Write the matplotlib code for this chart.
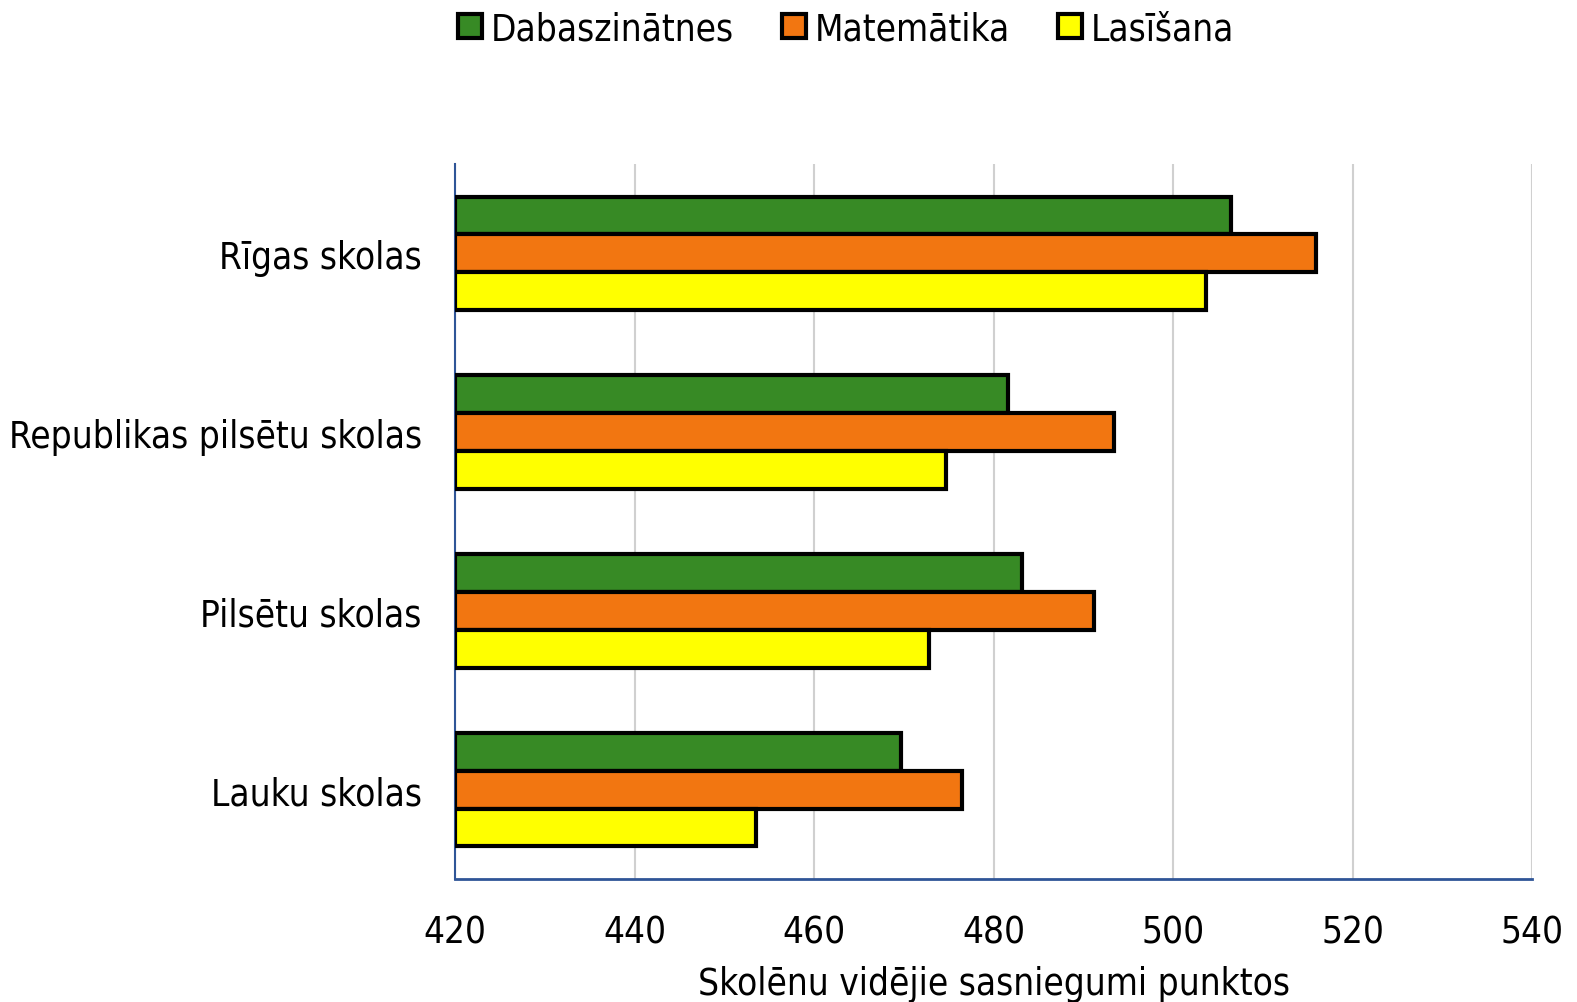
import matplotlib
matplotlib.use("Agg")
import matplotlib.pyplot as plt
from matplotlib.font_manager import fontManager
import numpy as np

categories = ["Rīgas skolas", "Republikas pilsētu skolas", "Pilsētu skolas", "Lauku skolas"]
series_names = ["Dabaszinātnes", "Matemātika", "Lasīšana"]
dabaszinatnes = [506.5, 481.6, 483.2, 469.7]
matematika = [515.9, 493.4, 491.2, 476.5]
lasisana = [503.7, 474.7, 472.8, 453.5]
xticks = [420, 440, 460, 480, 500, 520, 540]
colors = ["#378a25", "#f27611", "#ffff00"]

condensed = [f for f in fontManager.ttflist if f.name == "DejaVu Sans" and f.stretch == "condensed"]
plt.rcParams['font.family'] = ["DejaVu Sans"]
if condensed:
    plt.rcParams['font.stretch'] = 'condensed'
    fs = 26.5
else:
    fs = 23

fig = plt.figure(figsize=(15.77, 10.03), dpi=100)
ax = fig.add_axes([455/1577, 1 - 880/1003, (1532-455)/1577, (880-165)/1003])

y = np.arange(len(categories))
h = 0.212
for i, (vals, name, c) in enumerate(zip([dabaszinatnes, matematika, lasisana], series_names, colors)):
    ax.barh(y + (i - 1) * h, np.array(vals) - 420, left=420, height=h, color=c,
            edgecolor="black", linewidth=3, label=name, zorder=3)

ax.set_xlim(420, 540)
ax.set_ylim(3.5, -0.5)
ax.set_xticks(xticks)
ax.set_xticklabels([str(t) for t in xticks], fontsize=fs)
ax.set_yticks(y)
ax.set_yticklabels(categories, fontsize=fs)
ax.tick_params(axis='both', length=0)
ax.tick_params(axis='x', pad=25)
ax.tick_params(axis='y', pad=24)
ax.grid(axis='x', color="#d0d0d0", linewidth=1.5, zorder=0)
for s in ["top", "right"]:
    ax.spines[s].set_visible(False)
ax.spines["left"].set_color("#2f5597")
ax.spines["bottom"].set_color("#2f5597")
ax.spines["left"].set_linewidth(1.5)
ax.spines["bottom"].set_linewidth(2)
ax.set_xlabel("Skolēnu vidējie sasniegumi punktos", fontsize=fs, labelpad=10)
ax.patch.set_alpha(0)

fig.legend(loc="upper center", bbox_to_anchor=(846/1577, 1.022), ncol=3, frameon=False,
           fontsize=fs, handlelength=0.65, handleheight=0.65, handletextpad=0.25,
           columnspacing=1.3)

fig.savefig("out.png", dpi=100, facecolor="white")
